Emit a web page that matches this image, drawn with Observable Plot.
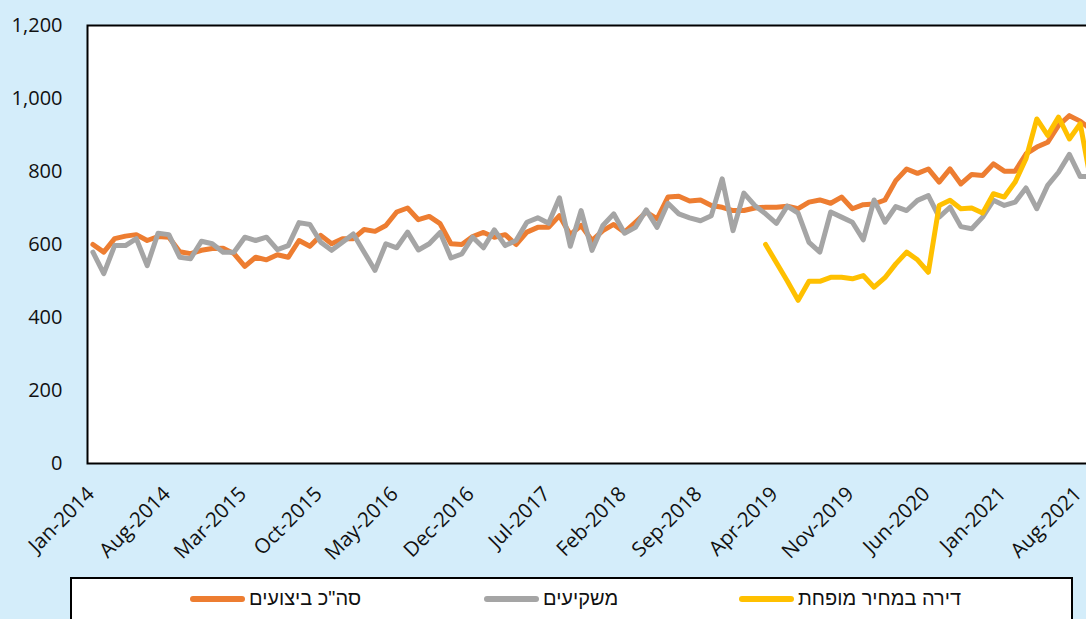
<!DOCTYPE html>
<html>
<head>
<meta charset="utf-8">
<script src="https://cdn.jsdelivr.net/npm/d3@7"></script>
<script src="https://cdn.jsdelivr.net/npm/@observablehq/plot@0.6"></script>
<style>
  html, body { margin: 0; padding: 0; background: #d4edfa; overflow: hidden; }
  #wrap { position: relative; width: 1086px; height: 619px; overflow: hidden; background: #d4edfa;
          font-family: "Open Sans", "Liberation Sans", sans-serif; }
  #chart { position: absolute; left: 0; top: 0; width: 1100px; }
  #chart svg { max-width: none !important; width: 1100px; height: 575px; }
  #legend { position: absolute; left: 70px; top: 577px; width: 1003px; height: 80px;
            border: 2px solid #000; background: #fff; box-sizing: border-box; }
  .item { position: absolute; top: 8px; display: flex; align-items: center; white-space: nowrap;
          font-family: "Liberation Sans", "DejaVu Sans", sans-serif; font-size: 20px; color: #111; }
  .sw { display: inline-block; width: 55px; height: 6px; border-radius: 3px; margin-right: 4px; }
</style>
</head>
<body>
<div id="wrap">
  <div id="chart"></div>
  <div id="legend"></div>
</div>
<script>
// ---- data ----
const monthLabels = d3.utcMonths(new Date(Date.UTC(2014, 0, 1)), new Date(Date.UTC(2021, 9, 1)))
  .map(d3.utcFormat("%b-%Y")); // Jan-2014 ... Sep-2021

const tickLabels = ["Jan-2014","Aug-2014","Mar-2015","Oct-2015","May-2016","Dec-2016","Jul-2017",
  "Feb-2018","Sep-2018","Apr-2019","Nov-2019","Jun-2020","Jan-2021","Aug-2021"];

const yTicks = [0, 200, 400, 600, 800, 1000, 1200];

const seriesNames = ["סה\"כ ביצועים", "משקיעים", "דירה במחיר מופחת"];
const seriesColors = ["#ED7D31", "#A5A5A5", "#FFC000"];

const totalDeals = [600,579,616,623,627,611,622,620,580,575,584,589,590,575,540,565,558,572,565,611,
  595,625,602,616,616,641,636,652,689,700,668,677,657,602,600,622,633,620,627,600,
  634,647,647,679,627,652,611,638,655,634,661,689,670,730,732,719,722,707,702,693,
  693,700,702,702,705,698,716,722,713,730,698,709,711,722,775,807,795,807,771,807,
  766,792,789,821,801,801,848,867,880,926,953,938,915];

const investors = [579,520,597,597,616,542,631,627,565,561,609,602,579,579,620,611,620,586,597,660,
  655,606,584,606,629,579,529,602,591,634,585,602,633,563,574,620,591,640,597,611,
  661,673,658,728,595,693,584,652,684,631,647,695,647,713,684,673,665,679,780,638,
  741,707,684,658,705,686,606,579,689,675,661,613,722,661,704,693,721,734,675,702,
  649,643,675,721,707,716,755,698,762,798,847,786,786];

const discounted = [null,null,null,null,null,null,null,null,null,null,null,null,null,null,null,null,null,null,null,null,
  null,null,null,null,null,null,null,null,null,null,null,null,null,null,null,null,null,null,null,null,
  null,null,null,null,null,null,null,null,null,null,null,null,null,null,null,null,null,null,null,null,
  null,null,600,550,500,447,499,499,510,510,506,515,483,509,547,579,558,524,707,721,
  698,700,686,739,730,771,835,944,899,949,889,931,770];

const allSeries = [totalDeals, investors, discounted];
const rows = allSeries.flatMap((vals, s) =>
  vals.map((v, i) => ({month: monthLabels[i], value: v, series: seriesNames[s]})));

// ---- chart ----
const chart = Plot.plot({
  width: 1100,
  height: 575,
  marginLeft: 87,
  marginRight: 4,
  marginTop: 25,
  marginBottom: 112,
  style: {background: "transparent", fontFamily: "'Open Sans', 'Liberation Sans', sans-serif", color: "#111", maxWidth: "none"},
  x: {type: "point", domain: monthLabels, padding: 0.5},
  y: {domain: [0, 1200]},
  color: {domain: seriesNames, range: seriesColors},
  marks: [
    Plot.frame({fill: "white", stroke: "black", strokeWidth: 2}),
    ...seriesNames.map((name, s) =>
      Plot.line(rows.filter(d => d.series === name), {
        x: "month", y: "value", stroke: seriesColors[s], strokeWidth: 5,
        strokeLinejoin: "round", strokeLinecap: "round"
      })),
    Plot.axisY({ticks: yTicks, tickSize: 0, tickPadding: 25, tickFormat: d3.format(","), fontSize: 20, label: null}),
    Plot.axisX({ticks: tickLabels, tickSize: 0, tickPadding: 27, tickRotate: -45, fontSize: 20.5, dx: -2, label: null})
  ]
});
document.getElementById("chart").appendChild(chart);

// ---- legend ----
const legendX = [118, 412, 667];
const legend = document.getElementById("legend");
seriesNames.forEach((name, s) => {
  const it = document.createElement("div");
  it.className = "item";
  it.style.left = legendX[s] + "px";
  it.innerHTML = `<span class="sw" style="background:${seriesColors[s]}"></span><span>${name}</span>`;
  legend.appendChild(it);
});
</script>
</body>
</html>
